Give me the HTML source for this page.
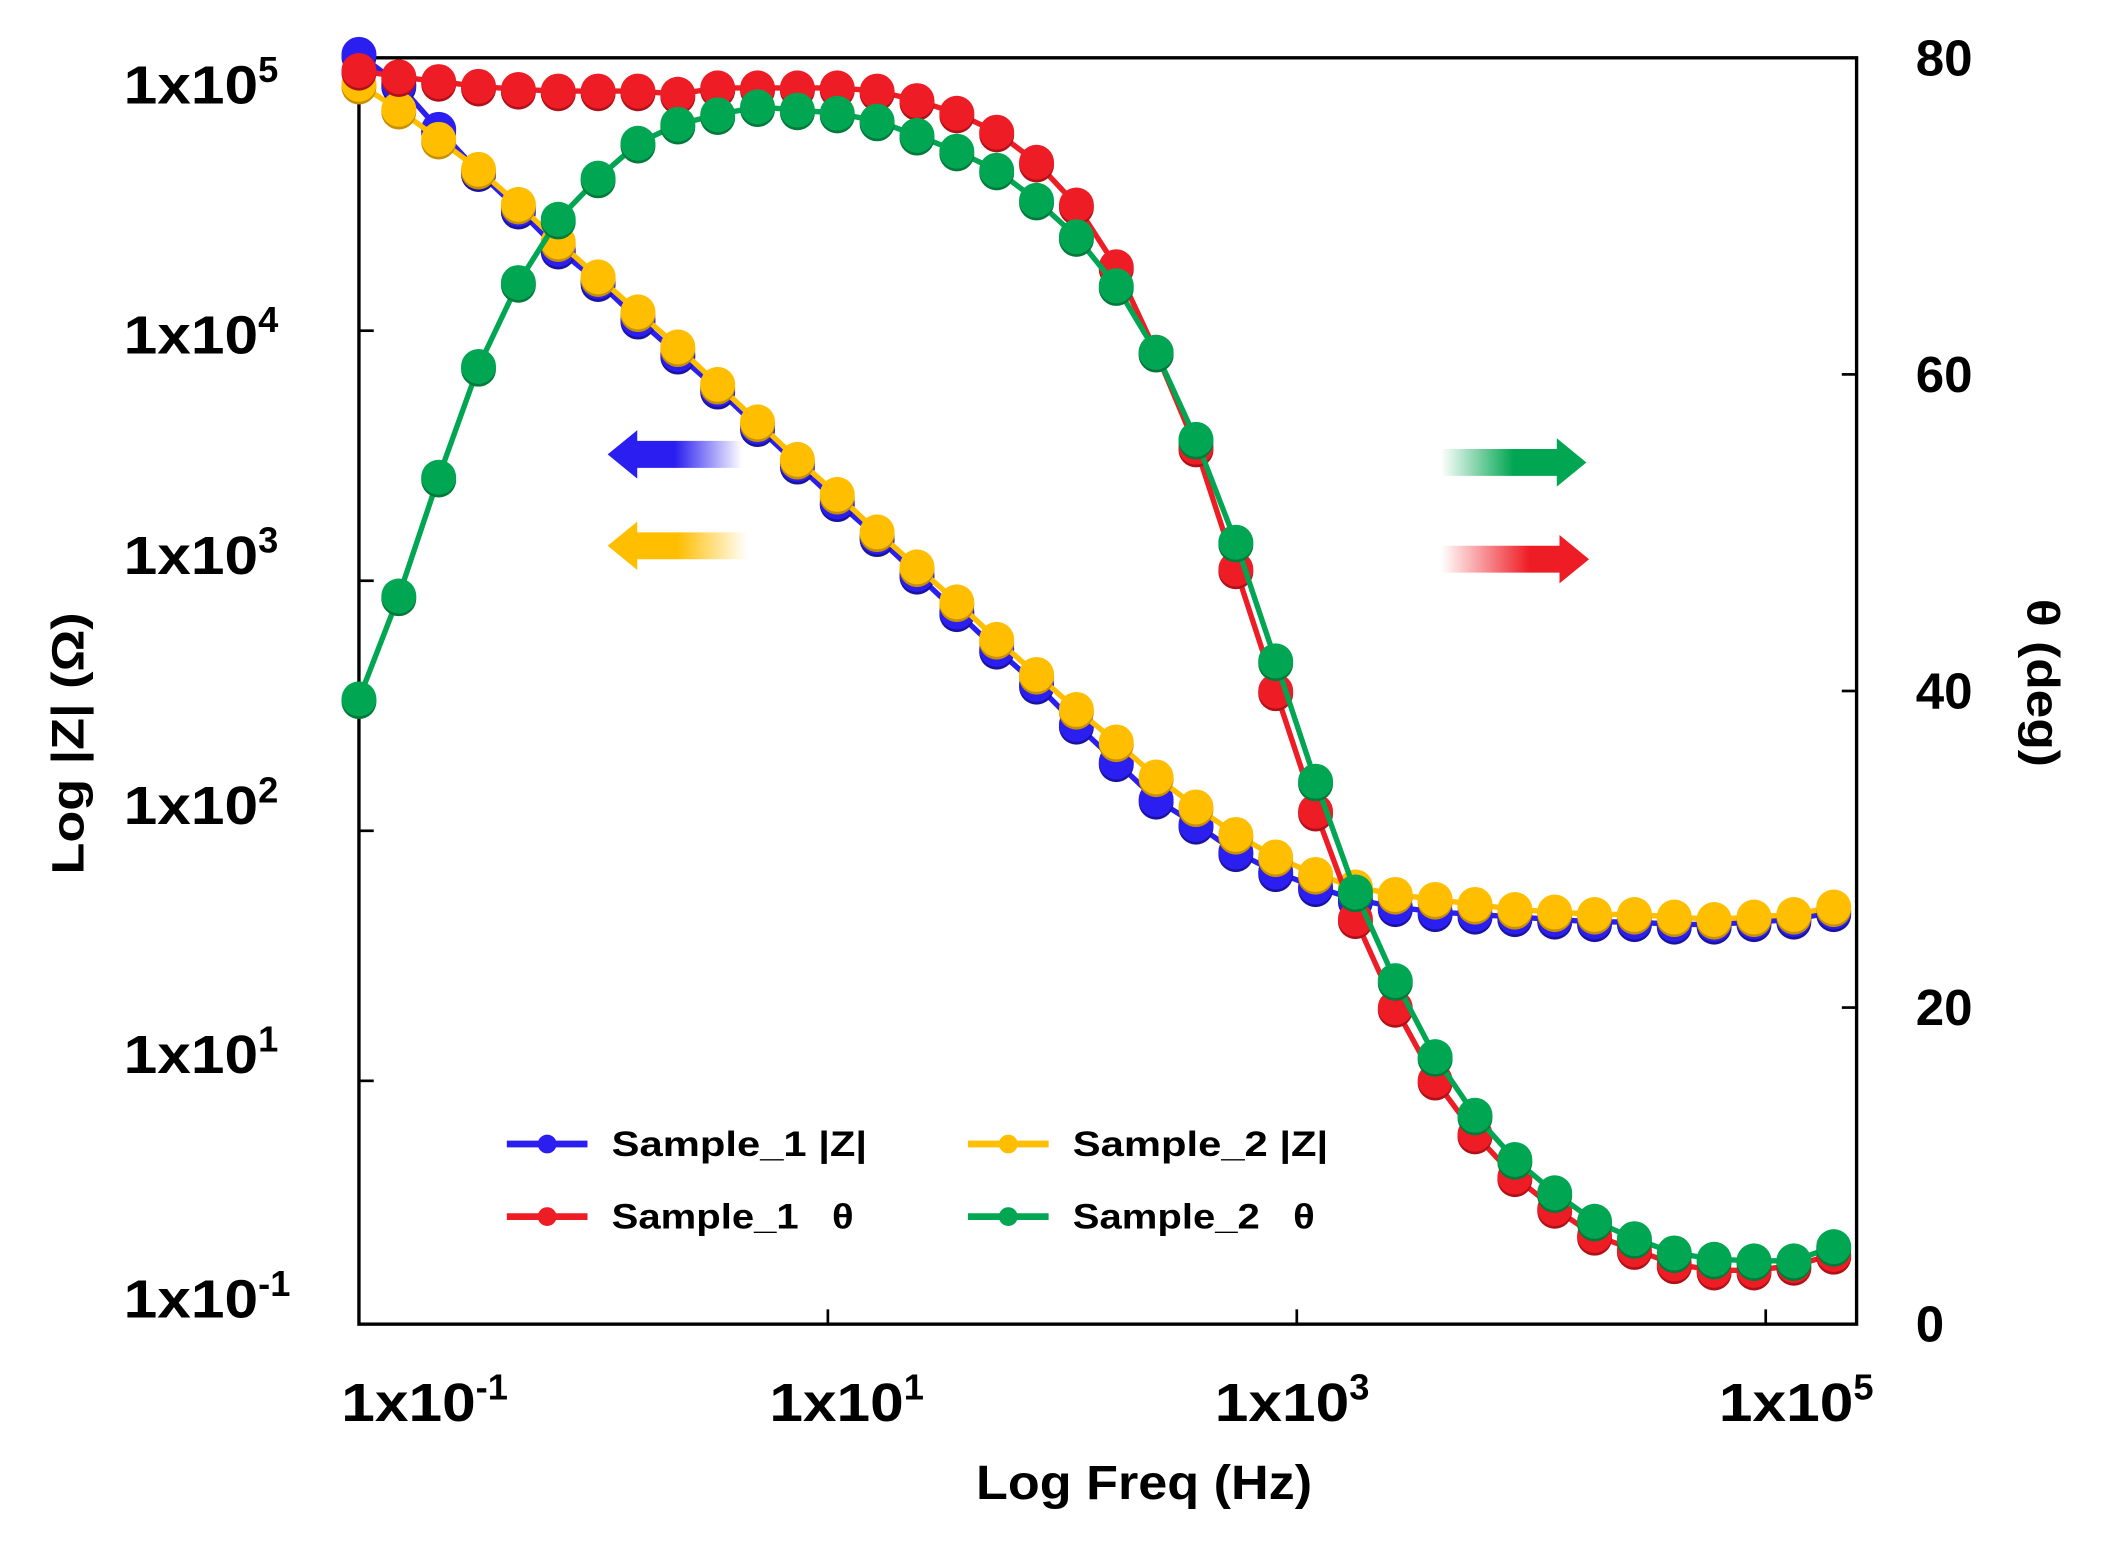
<!DOCTYPE html>
<html><head><meta charset="utf-8"><style>
html,body{margin:0;padding:0;background:#fff;}
svg{display:block;font-family:"Liberation Sans",sans-serif;font-weight:bold;}
</style></head><body>
<svg id="chart" width="2108" height="1550" viewBox="0 0 1568 1153" preserveAspectRatio="none" xmlns="http://www.w3.org/2000/svg">
<defs>
<linearGradient id="gb" x1="0" x2="1"><stop offset="0" stop-color="#2a1ff0"/><stop offset="0.5" stop-color="#2a1ff0"/><stop offset="1" stop-color="#2a1ff0" stop-opacity="0"/></linearGradient>
<linearGradient id="gy" x1="0" x2="1"><stop offset="0" stop-color="#ffbe00"/><stop offset="0.5" stop-color="#ffbe00"/><stop offset="1" stop-color="#ffbe00" stop-opacity="0"/></linearGradient>
<linearGradient id="gg" x1="1" x2="0"><stop offset="0" stop-color="#00a651"/><stop offset="0.5" stop-color="#00a651"/><stop offset="1" stop-color="#00a651" stop-opacity="0"/></linearGradient>
<linearGradient id="gr" x1="1" x2="0"><stop offset="0" stop-color="#ee1c24"/><stop offset="0.4" stop-color="#ee1c24"/><stop offset="1" stop-color="#ee1c24" stop-opacity="0"/></linearGradient>
</defs>
<g id="plot"></g>
</svg>
<script>
const logFreq = [-1.00,-0.83,-0.66,-0.49,-0.32,-0.15,0.02,0.19,0.36,0.53,0.70,0.87,1.04,1.21,1.38,1.55,1.72,1.89,2.06,2.23,2.40,2.57,2.74,2.91,3.08,3.25,3.42,3.59,3.76,3.93,4.10,4.27,4.44,4.61,4.78,4.95,5.12,5.29];
const s1LogZ = [5.10,4.98,4.80,4.63,4.48,4.32,4.19,4.04,3.90,3.76,3.61,3.46,3.31,3.17,3.02,2.87,2.72,2.58,2.42,2.27,2.12,2.02,1.91,1.83,1.77,1.72,1.69,1.67,1.66,1.65,1.64,1.63,1.63,1.62,1.62,1.63,1.64,1.67];
const s2LogZ = [4.98,4.88,4.76,4.64,4.50,4.35,4.21,4.07,3.93,3.78,3.63,3.48,3.34,3.19,3.05,2.91,2.76,2.62,2.48,2.35,2.21,2.09,1.98,1.89,1.82,1.77,1.74,1.72,1.70,1.68,1.67,1.66,1.66,1.65,1.64,1.65,1.66,1.69];
const s1Theta = [79.2,78.8,78.5,78.2,78.0,77.9,77.9,77.9,77.7,78.1,78.1,78.1,78.1,77.9,77.3,76.5,75.3,73.4,70.7,66.8,61.4,55.4,47.7,40.0,32.4,25.6,20.0,15.4,12.0,9.3,7.3,5.6,4.7,3.8,3.4,3.4,3.7,4.4];
const s2Theta = [39.5,46.0,53.5,60.5,65.8,69.8,72.4,74.6,75.8,76.4,76.9,76.7,76.5,76.0,75.1,74.1,72.9,71.0,68.7,65.6,61.4,55.9,49.4,41.9,34.3,27.3,21.7,16.9,13.2,10.4,8.3,6.5,5.4,4.5,4.1,4.0,4.0,4.9];
const leftTickLogs = [4,3,2,1];
const leftLabels = [["5",62],["4",248],["3",412],["2",598],["1",783],["-1",965]];
const rightTicks = [0,20,40,60,80];
const xTickLogs = [1,3,5];
const xLabels = [["-1",-0.72],["1",1.08],["3",2.98],["5",5.13]];

const L=267,R=1381,T=43,B=985;
const xs = v => 267 + (v+1)*174.4;
const yZ = v => 59 + (5-v)*186;
const yT = v => B - v/80*(B-T);
const NS="http://www.w3.org/2000/svg";
const g=document.getElementById('plot');
function el(tag,attrs,parent){const e=document.createElementNS(NS,tag);for(const k in attrs)e.setAttribute(k,attrs[k]);(parent||g).appendChild(e);return e;}

const frame=el('rect',{x:L,y:T,width:R-L,height:B-T,fill:'none',stroke:'#000','stroke-width':2.5});



leftTickLogs.forEach(v=>{const t=el('line',{x1:L,x2:L+11,y1:yZ(v)+1,y2:yZ(v)+1,stroke:'#000','stroke-width':2});

});
leftLabels.forEach(([e,y])=>{const t=el('text',{x:92,y:y+15,'font-size':40,fill:'#000'});t.innerHTML='<tspan textLength="100" lengthAdjust="spacingAndGlyphs">1x10</tspan><tspan dy="-16" font-size="27">'+e+'</tspan>';

});
rightTicks.forEach(v=>{const t=el('line',{x1:R-11,x2:R,y1:yT(v),y2:yT(v),stroke:'#000','stroke-width':2});


const lb=el('text',{x:1425,y:yT(v)+13,'font-size':38,fill:'#000'});lb.textContent=v;

});
xTickLogs.forEach(v=>{const t=el('line',{x1:xs(v),x2:xs(v),y1:B-11,y2:B,stroke:'#000','stroke-width':2});

});
xLabels.forEach(([e,v])=>{const t=el('text',{x:xs(v),y:1057,'font-size':40,'text-anchor':'middle',fill:'#000'});t.innerHTML='<tspan textLength="100" lengthAdjust="spacingAndGlyphs">1x10</tspan><tspan dy="-16" font-size="27">'+e+'</tspan>';

});

const xt=el('text',{x:851,y:1115,'font-size':36,'text-anchor':'middle',fill:'#000',textLength:250,lengthAdjust:'spacingAndGlyphs'});xt.textContent='Log Freq (Hz)';


const yt=el('text',{x:0,y:0,'font-size':34,'text-anchor':'middle',fill:'#000',transform:'translate(62,553) rotate(-90)',textLength:195,lengthAdjust:'spacingAndGlyphs'});yt.textContent='Log |Z| (Ω)';


const yt2=el('text',{x:0,y:0,'font-size':34,'text-anchor':'middle',fill:'#000',transform:'translate(1508,508) rotate(90)',textLength:125,lengthAdjust:'spacingAndGlyphs'});yt2.textContent='θ (deg)';



function arrow(x,y,w,dir,fill,name){
  let d;
  if(dir<0) d=`M${x} ${y} L${x+22} ${y-18} L${x+22} ${y-10} L${x+w} ${y-10} L${x+w} ${y+10} L${x+22} ${y+10} L${x+22} ${y+18} Z`;
  else d=`M${x+w} ${y} L${x+w-22} ${y-18} L${x+w-22} ${y-10} L${x} ${y-10} L${x} ${y+10} L${x+w-22} ${y+10} L${x+w-22} ${y+18} Z`;
  const a=el('path',{d:d,fill:fill});
  
  
}
arrow(452,338,100,-1,'url(#gb)','blue-arrow-left');
arrow(452,406,104,-1,'url(#gy)','yellow-arrow-left');
arrow(1072,344,108,1,'url(#gg)','green-arrow-right');
arrow(1072,416,110,1,'url(#gr)','red-arrow-right');

function series(vals,yf,color,dark,name){
  const pts=vals.map((v,i)=>[xs(logFreq[i]),yf(v)]);
  const ln=el('polyline',{points:pts.map(p=>p.join(',')).join(' '),fill:'none',stroke:color,'stroke-width':4});
  
  
  pts.forEach(p=>{
    const sh=el('circle',{cx:p[0],cy:p[1]+2,r:13,fill:dark});
    
    
    const c=el('circle',{cx:p[0],cy:p[1],r:13,fill:color});
    
    
  });
}
series(s1LogZ,yZ,'#2a1ff0','#1a12a0','sample1-z');
series(s2LogZ,yZ,'#ffbe00','#c89000','sample2-z');
series(s1Theta,yT,'#ee1c24','#b01018','sample1-theta');
series(s2Theta,yT,'#00a651','#007a3a','sample2-theta');

const legend=[['#2a1ff0','Sample_1 |Z|',377,851,190],['#ffbe00','Sample_2 |Z|',720,851,190],['#ee1c24','Sample_1   θ',377,905,180],['#00a651','Sample_2   θ',720,905,180]];
legend.forEach(([c,t,x,y,w])=>{
  const l=el('line',{x1:x,x2:x+60,y1:y,y2:y,stroke:c,'stroke-width':5});
  
  
  const m=el('circle',{cx:x+30,cy:y,r:7,fill:c});
  
  
  const tx=el('text',{x:x+78,y:y+9,'font-size':26,fill:'#000',textLength:w,lengthAdjust:'spacingAndGlyphs'});tx.textContent=t;
  tx.style.whiteSpace='pre';
  
  
});
</script>
</body></html>
